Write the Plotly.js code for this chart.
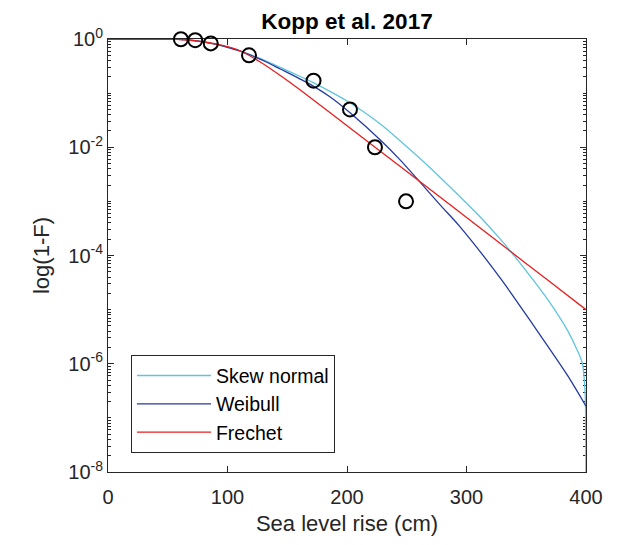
<!DOCTYPE html>
<html>
<head>
<meta charset="utf-8">
<script src="https://cdn.plot.ly/plotly-3.0.1.min.js"></script>
<style>html,body{margin:0;padding:0;background:#fff;}#chart{width:620px;height:545px;}</style>
</head>
<body>
<div id="chart"></div>
<script>
// Observed quantiles (circles)
var xObs = [61, 73, 86, 118, 172, 202.5, 223.4, 249.4];
var yObs = [0.99, 0.95, 0.83, 0.5, 0.17, 0.05, 0.01, 0.001];

// Skew normal fit
var xSkew = [0, 40, 52.1, 64.7, 77.2, 89.8, 102.3, 110.7, 119.1, 131.6, 144.2, 160.9, 171.8, 202.8, 227.9, 244.6, 269.7, 297.3, 311.5, 328.3, 336.7, 355.9, 370.1, 384.4, 392.7, 396.9, 398.6, 399.4, 399.8, 400];
var ySkew = [1, 1, 0.999, 0.975, 0.907, 0.801, 0.682, 0.60, 0.517, 0.400, 0.300, 0.203, 0.156, 0.0656, 0.0268, 0.0130, 0.00413, 1.06e-3, 5.13e-4, 2.01e-4, 1.21e-4, 3.51e-5, 1.32e-5, 4.18e-6, 1.78e-6, 1.03e-6, 4.98e-7, 2.45e-7, 5.9e-8, 1e-10];

// Weibull fit
var xWeib = [0, 40, 52.1, 64.7, 77.2, 89.8, 102.3, 110.7, 119.1, 131.6, 144.2, 160.9, 171.8, 186.0, 202.8, 227.9, 244.6, 278.1, 294.8, 328.3, 355.9, 384.4, 400];
var yWeib = [1, 1, 0.999, 0.975, 0.907, 0.801, 0.682, 0.60, 0.506, 0.384, 0.279, 0.182, 0.135, 0.0847, 0.0429, 0.0136, 0.00579, 8.55e-4, 3.35e-4, 3.82e-5, 5.17e-6, 6.15e-7, 1.64e-7];

// Frechet fit
var xFrech = [0, 40, 50, 60.5, 77.2, 94.0, 110.7, 127.4, 144.2, 160.9, 202.8, 244.6, 287.1, 328.3, 370.1, 400];
var yFrech = [1, 1, 0.997, 0.979, 0.899, 0.775, 0.600, 0.376, 0.2115, 0.114, 0.0224, 0.00442, 8.4e-4, 1.66e-4, 3.23e-5, 1.0e-5];

var seriesNames = ['Skew normal', 'Weibull', 'Frechet'];
var xTickVals = [0, 100, 200, 300, 400];
var yMajorVals = [1e-8, 1e-6, 1e-4, 1e-2, 1];
var yMajorText = ['10<sup>-8</sup>', '10<sup>-6</sup>', '10<sup>-4</sup>', '10<sup>-2</sup>', '10<sup>0</sup>'];

var yMinorVals = [];
for (var e = -8; e < 0; e++) {
  for (var m = 1; m <= 9; m++) {
    if (!(m === 1 && e % 2 === 0)) yMinorVals.push(m * Math.pow(10, e));
  }
}

var FONT = '"Liberation Sans", Arial, Helvetica, sans-serif';
var AX = 'rgb(38,38,38)';
var LINE = {shape: 'spline', smoothing: 0.8, width: 1.3};

var traces = [
  {x: xSkew, y: ySkew, name: seriesNames[0], mode: 'lines', line: Object.assign({color: 'rgb(95,196,222)'}, LINE)},
  {x: xWeib, y: yWeib, name: seriesNames[1], mode: 'lines', line: Object.assign({color: 'rgb(35,58,160)'}, LINE)},
  {x: xFrech, y: yFrech, name: seriesNames[2], mode: 'lines', line: Object.assign({color: 'rgb(232,30,30)'}, LINE)},
  {x: xObs, y: yObs, mode: 'markers', showlegend: false, cliponaxis: false,
   marker: {symbol: 'circle-open', size: 14, color: 'black', line: {width: 2, color: 'black'}}}
];

var layout = {
  width: 620, height: 545,
  margin: {l: 108, r: 34, t: 39, b: 73, pad: 0},
  paper_bgcolor: 'white', plot_bgcolor: 'white',
  font: {family: FONT, color: AX, size: 20},
  title: {text: '<b>Kopp et al. 2017</b>', font: {family: FONT, size: 22.5, color: 'black'},
          x: 0.5, xref: 'paper', xanchor: 'center', y: 1 - 21/545, yref: 'container', yanchor: 'middle'},
  xaxis: {
    range: [0, 400], tickvals: xTickVals, ticks: 'inside', ticklen: 6, tickcolor: AX, tickwidth: 1,
    showline: true, linecolor: AX, linewidth: 1, mirror: 'ticks', showgrid: false, zeroline: false,
    layer: 'below traces',
    tickfont: {size: 20, color: AX, family: FONT}, ticklabelstandoff: 7,
    title: {text: 'Sea level rise (cm)', font: {size: 22, color: AX, family: FONT}, standoff: 8}
  },
  yaxis: {
    type: 'log', range: [-8, 0], tickmode: 'array', tickvals: yMajorVals, ticktext: yMajorText,
    ticks: 'inside', ticklen: 6, tickcolor: AX, tickwidth: 1,
    minor: {tickmode: 'array', tickvals: yMinorVals, ticks: 'inside', ticklen: 3, tickcolor: AX, tickwidth: 1, showgrid: false},
    showline: true, linecolor: AX, linewidth: 1, mirror: 'ticks', showgrid: false, zeroline: false,
    layer: 'below traces',
    tickfont: {size: 20, color: AX, family: FONT},
    title: {text: 'log(1-F)', font: {size: 22, color: AX, family: FONT}, standoff: 12}
  },
  legend: {
    x: 0.048, y: 0.2695, xanchor: 'left', yanchor: 'top',
    bordercolor: AX, borderwidth: 1, bgcolor: 'white',
    font: {size: 19.5, color: 'black', family: FONT}, itemwidth: 74, tracegroupgap: 0
  },
  showlegend: true
};

Plotly.newPlot('chart', traces, layout, {staticPlot: true, displayModeBar: false});
</script>
</body>
</html>
